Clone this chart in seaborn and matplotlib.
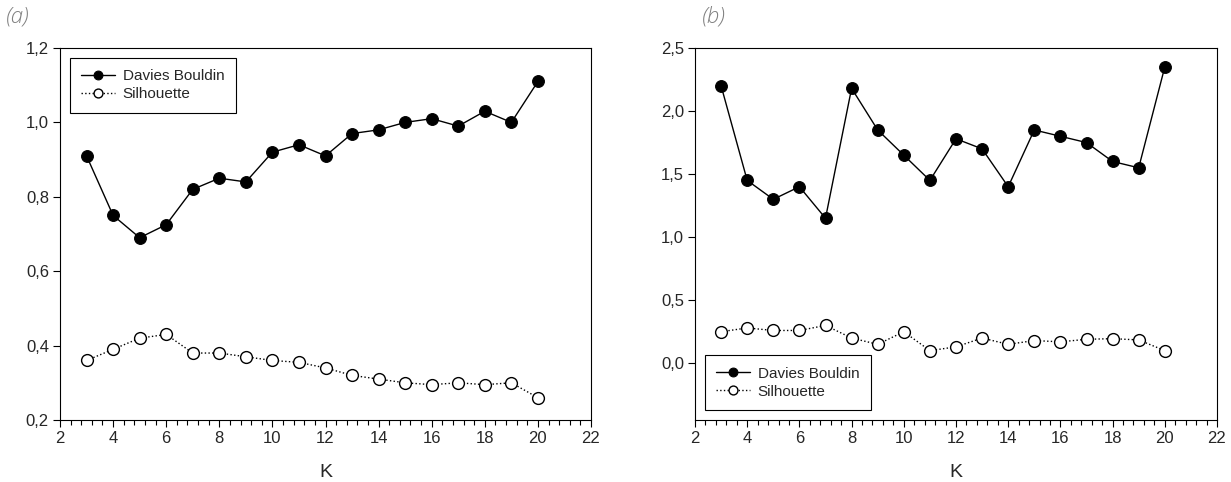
import matplotlib
matplotlib.use("Agg")
import matplotlib.pyplot as plt
import seaborn as sns
import numpy as np
from matplotlib.ticker import MultipleLocator, FuncFormatter

sns.set_style("ticks")
plt.rcParams['font.family'] = ['Liberation Sans', 'DejaVu Sans']

k = list(range(3, 21))
db_a = [0.91, 0.75, 0.69, 0.725, 0.82, 0.85, 0.84, 0.92, 0.94, 0.91, 0.97, 0.98, 1.00, 1.01, 0.99, 1.03, 1.00, 1.11]
sil_a = [0.36, 0.39, 0.42, 0.43, 0.38, 0.38, 0.37, 0.36, 0.355, 0.34, 0.32, 0.31, 0.30, 0.295, 0.30, 0.295, 0.30, 0.26]
db_b = [2.20, 1.45, 1.30, 1.40, 1.15, 2.18, 1.85, 1.65, 1.45, 1.78, 1.70, 1.40, 1.85, 1.80, 1.75, 1.60, 1.55, 2.35]
sil_b = [0.25, 0.28, 0.26, 0.26, 0.30, 0.20, 0.15, 0.25, 0.10, 0.13, 0.20, 0.15, 0.18, 0.17, 0.19, 0.195, 0.185, 0.10]
panel_labels = ["(a)", "(b)"]
series_names = ["Davies Bouldin", "Silhouette"]

fig = plt.figure(figsize=(12.31, 4.82), dpi=100)
ax1 = fig.add_axes([60/1231, 1-420/482, (591-60)/1231, (420-48)/482])
ax2 = fig.add_axes([695/1231, 1-420/482, (1217-695)/1231, (420-48)/482])

comma = FuncFormatter(lambda v, p: f"{v:.1f}".replace(".", ","))
fmt_int = FuncFormatter(lambda v, p: f"{int(round(v))}")

def draw(ax, db, sil, ylim, ystep, legloc, label, lx):
    sns.lineplot(x=k, y=db, ax=ax, color="black", lw=1.0, marker="o", markersize=8.5,
                 markerfacecolor="black", markeredgecolor="black", label=series_names[0])
    sns.lineplot(x=k, y=sil, ax=ax, color="black", lw=1.0, linestyle=":", marker="o", markersize=8.5,
                 markerfacecolor="white", markeredgecolor="black", markeredgewidth=1.0, label=series_names[1])
    ax.set_xlim(2, 22)
    ax.set_ylim(*ylim)
    ax.xaxis.set_major_locator(MultipleLocator(2))
    ax.xaxis.set_minor_locator(MultipleLocator(0.4))
    ax.yaxis.set_major_locator(MultipleLocator(ystep))
    ax.yaxis.set_major_formatter(comma)
    ax.xaxis.set_major_formatter(fmt_int)
    ax.tick_params(axis="both", which="major", direction="out", length=5, width=0.8, labelsize=12, color="black", pad=3)
    ax.tick_params(axis="x", which="minor", direction="out", length=3.5, width=0.8, color="black")
    for s in ax.spines.values():
        s.set_visible(True)
        s.set_color("black")
        s.set_linewidth(0.8)
    ax.set_xlabel("K", fontsize=14, labelpad=13)
    ax.set_ylabel("")
    leg = ax.legend(loc=legloc, fancybox=False, edgecolor="black", framealpha=1, fontsize=11,
                    handlelength=2.2, handletextpad=0.5, borderpad=0.75, labelspacing=0.25,
                    borderaxespad=0.65, markerscale=0.75)
    leg.get_frame().set_linewidth(0.8)
    fig.text(lx, 1-17/482, label, fontsize=16, style="italic", color="#808080",
             family=["Open Sans", "DejaVu Sans"], va="center", ha="left", fontweight="light")

draw(ax1, db_a, sil_a, (0.2, 1.2), 0.2, "upper left", panel_labels[0], 6/1231)
draw(ax2, db_b, sil_b, (-0.45, 2.5), 0.5, "lower left", panel_labels[1], 702/1231)

fig.savefig("out.png", dpi=100)
